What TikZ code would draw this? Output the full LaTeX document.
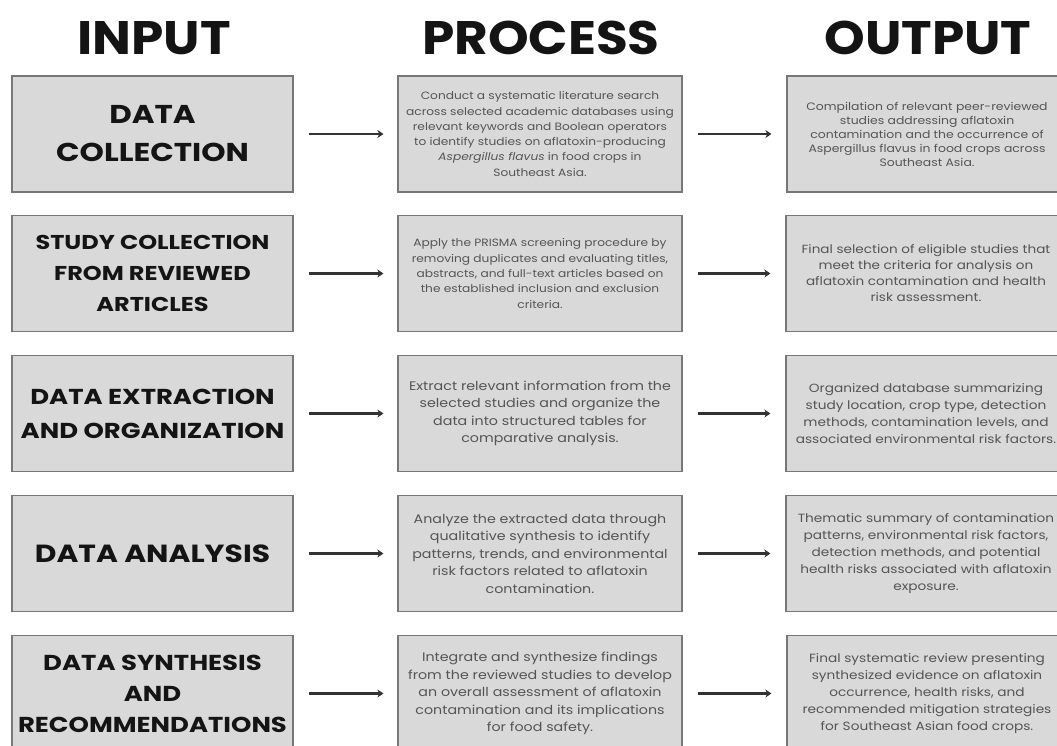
\documentclass[tikz,border=0pt]{standalone}
\usepackage{fontspec}
\setmainfont{Poppins}
\newfontfamily\bodyfont{Poppins}[FakeStretch=1.15]
\newfontfamily\labelfont{Poppins}[FakeStretch=1.2]
\newfontfamily\headfont{Poppins}[FakeStretch=1.1]
\usetikzlibrary{arrows.meta}
\definecolor{boxfill}{HTML}{D9D9D9}
\definecolor{boxline}{HTML}{777777}
\definecolor{bodytext}{HTML}{555555}
\definecolor{headtext}{HTML}{141414}
\definecolor{arrowcol}{HTML}{333333}
\tikzset{
  box/.style={draw=boxline, line width=1.2pt, fill=boxfill, minimum height=116pt, inner sep=1pt, align=center},
  inbox/.style={box, minimum width=281pt, text=headtext},
  prbox/.style={box, minimum width=284pt, text=bodytext},
  outbox/.style={box, minimum width=280pt, text=bodytext},
  header/.style={text=headtext, font=\headfont\bfseries\fontsize{47}{50}\selectfont, anchor=base, inner sep=0pt},
  arr/.style={draw=arrowcol, line width=2.4pt, -{Stealth[length=6pt,width=8pt]}, shorten <=15pt, shorten >=14pt},
}
\newcommand{\fsA}{\bodyfont\fontsize{10.6}{15.3}\selectfont}
\newcommand{\fsB}{\bodyfont\fontsize{12.4}{17.5}\selectfont}
\newcommand{\fsO}{\bodyfont\fontsize{10.8}{14}\selectfont}
\newcommand{\fsOb}{\bodyfont\fontsize{11.8}{16}\selectfont}
\newcommand{\fsOc}{\bodyfont\fontsize{11.9}{17}\selectfont}
\begin{document}
\begin{tikzpicture}[x=1pt,y=-1pt]
\useasboundingbox (0,0) rectangle (1057,745);
\fill[white] (0,0) rectangle (1057,745);
\begin{scope}
\clip (0,0) rectangle (1057,745);
% headers
\node[header] (hin) at (154,54) {INPUT};
\node[header] (hpr) at (541,54) {PROCESS};
\node[header] (hout) at (928,54) {OUTPUT};
% input column
\node[inbox, font=\labelfont\bfseries\fontsize{25.8}{38}\selectfont] (in1) at (152.5,134) {DATA\\COLLECTION};
\node[inbox, font=\labelfont\bfseries\fontsize{20}{31}\selectfont] (in2) at (152.5,273.5) {STUDY COLLECTION\\FROM REVIEWED\\ARTICLES};
\node[inbox, font=\labelfont\bfseries\fontsize{21.6}{34}\selectfont] (in3) at (152.5,413.5) {DATA EXTRACTION\\AND ORGANIZATION};
\node[inbox, font=\labelfont\bfseries\fontsize{24.8}{34}\selectfont] (in4) at (152.5,553.5) {DATA ANALYSIS};
\node[inbox, font=\labelfont\bfseries\fontsize{21.6}{31}\selectfont] (in5) at (152.5,693.5) {DATA SYNTHESIS\\AND\\RECOMMENDATIONS};
% process column
\node[prbox, font=\fsA] (pr1) at (540,134) {Conduct a systematic literature search\\across selected academic databases using\\relevant keywords and Boolean operators\\to identify studies on aflatoxin-producing\\\textit{Aspergillus flavus} in food crops in\\Southeast Asia.};
\node[prbox, font=\fsA] (pr2) at (540,273.5) {Apply the PRISMA screening procedure by\\removing duplicates and evaluating titles,\\abstracts, and full-text articles based on\\the established inclusion and exclusion\\criteria.};
\node[prbox, font=\fsB] (pr3) at (540,413.5) {Extract relevant information from the\\selected studies and organize the\\data into structured tables for\\comparative analysis.};
\node[prbox, font=\fsB] (pr4) at (540,553.5) {Analyze the extracted data through\\qualitative synthesis to identify\\patterns, trends, and environmental\\risk factors related to aflatoxin\\contamination.};
\node[prbox, font=\fsB] (pr5) at (540,693.5) {Integrate and synthesize findings\\from the reviewed studies to develop\\an overall assessment of aflatoxin\\contamination and its implications\\for food safety.};
% output column
\node[outbox, font=\fsO] (out1) at (927,134) {Compilation of relevant peer-reviewed\\studies addressing aflatoxin\\contamination and the occurrence of\\Aspergillus flavus in food crops across\\Southeast Asia.};
\node[outbox, font=\fsOb] (out2) at (926,273.5) {Final selection of eligible studies that\\meet the criteria for analysis on\\aflatoxin contamination and health\\risk assessment.};
\node[outbox, font=\fsOc] (out3) at (926,413.5) {Organized database summarizing\\study location, crop type, detection\\methods, contamination levels, and\\associated environmental risk factors.};
\node[outbox, font=\fsOc] (out4) at (926,553.5) {Thematic summary of contamination\\patterns, environmental risk factors,\\detection methods, and potential\\health risks associated with aflatoxin\\exposure.};
\node[outbox, font=\fsOc] (out5) at (927,693.5) {Final systematic review presenting\\synthesized evidence on aflatoxin\\occurrence, health risks, and\\recommended mitigation strategies\\for Southeast Asian food crops.};
% arrows
\foreach \i in {1,...,5}{
  \draw[arr] (in\i.east) -- (pr\i.west);
  \draw[arr, shorten >=15pt] (pr\i.east) -- (out\i.west);
}
\end{scope}
\end{tikzpicture}
\end{document}
